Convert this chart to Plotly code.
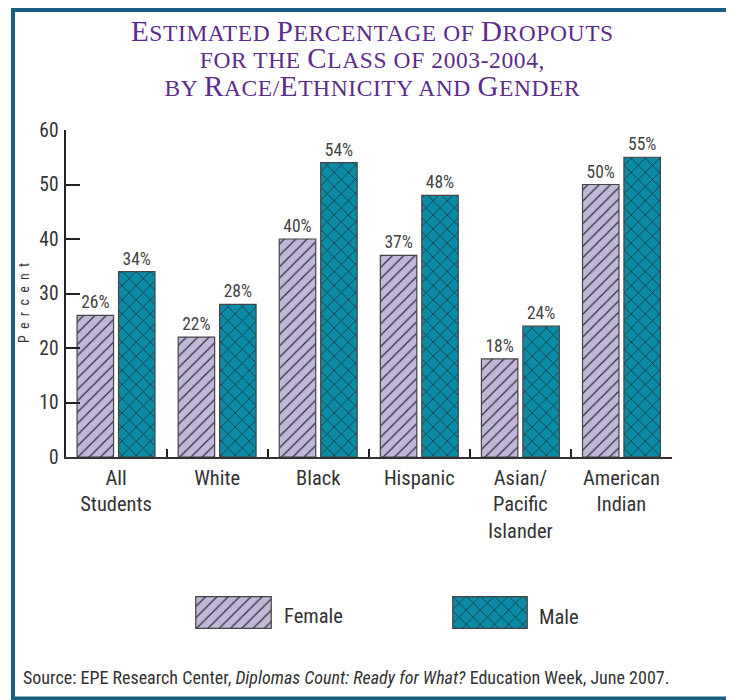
import plotly.graph_objects as go

# ---------------- data ----------------
categories = ["All<br>Students", "White", "Black", "Hispanic",
              "Asian/<br>Pacific<br>Islander", "American<br>Indian"]
female = [26, 22, 40, 37, 18, 50]
male = [34, 28, 54, 48, 24, 55]
y_ticks = [0, 10, 20, 30, 40, 50, 60]

title_lines = ["Estimated Percentage of Dropouts",
               "for the Class of 2003-2004,",
               "by Race/Ethnicity and Gender"]
y_title = "Percent"
source_text = ("Source: EPE Research Center, <i>Diplomas Count: Ready for What?</i> "
               "Education Week, June 2007.")

# ---------------- styles ----------------
W, H = 734, 700
OFF = 8  # page body margin compensation
FEMALE_COLOR = "#c1b7d7"
MALE_COLOR = "#0c8ba7"
FRAME_COLOR = "#1a5e84"
TITLE_COLOR = "#5b2c8a"
TEXT_COLOR = "#333333"
SANS = "Liberation Sans Narrow, Arial Narrow, Roboto Condensed, Liberation Sans, sans-serif"
SERIF = "Liberation Serif, Times New Roman, serif"


def px(x):
    return (x - OFF) / W


def py(y):
    return 1 - (y - OFF) / H


def small_caps(text, big, small, spacing=0.6):
    out = []
    cur_size, buf = None, ""

    def flush(size, s):
        out.append(f'<span style="font-size:{size}px;letter-spacing:{spacing}px">{s}</span>')

    for ch in text:
        if ch.isalpha() and ch.isupper():
            size, c = big, ch
        elif ch.isalpha():
            size, c = small, ch.upper()
        else:
            size, c = small, ch
        if size != cur_size and buf:
            flush(cur_size, buf)
            buf = ""
        cur_size = size
        buf += c
    if buf:
        flush(cur_size, buf)
    return "".join(out)


female_pattern = dict(shape="/", fgcolor="#2f2f3a", bgcolor=FEMALE_COLOR,
                      size=8, solidity=0.15, fillmode="replace")
male_pattern = dict(shape="x", fgcolor="#1c2a30", bgcolor=MALE_COLOR,
                    size=10, solidity=0.14, fillmode="replace")

fig = go.Figure()

fig.add_trace(go.Bar(
    x=categories, y=female, name="Female",
    marker=dict(color=FEMALE_COLOR, pattern=female_pattern,
                line=dict(color="#444444", width=1.2)),
    texttemplate="%{y}%", textposition="outside",
    textfont=dict(family=SANS, size=17.5, color="#444444"),
    cliponaxis=False, showlegend=False,
))
fig.add_trace(go.Bar(
    x=categories, y=male, name="Male",
    marker=dict(color=MALE_COLOR, pattern=male_pattern,
                line=dict(color="#444444", width=1.2)),
    texttemplate="%{y}%", textposition="outside",
    textfont=dict(family=SANS, size=17.5, color="#444444"),
    cliponaxis=False, showlegend=False,
))

# legend swatches (drawn as bars so they can carry the fill patterns)
fig.add_trace(go.Bar(x=[0], y=[1], width=[1], xaxis="x2", yaxis="y2",
                     marker=dict(color=FEMALE_COLOR, pattern=female_pattern,
                                 line=dict(color="#444444", width=1.2)),
                     hoverinfo="skip", showlegend=False, name="Female"))
fig.add_trace(go.Bar(x=[0], y=[1], width=[1], xaxis="x3", yaxis="y3",
                     marker=dict(color=MALE_COLOR, pattern=male_pattern,
                                 line=dict(color="#444444", width=1.2)),
                     hoverinfo="skip", showlegend=False, name="Male"))

hidden = dict(visible=False, fixedrange=True)

fig.update_layout(
    width=W, height=H,
    margin=dict(l=0, r=0, t=0, b=0),
    paper_bgcolor="white", plot_bgcolor="rgba(0,0,0,0)",
    barmode="group", bargap=0.18, bargroupgap=0.12,
    font=dict(family=SANS, color=TEXT_COLOR),
    xaxis=dict(domain=[px(65.5), px(672)], type="category",
               showline=True, linecolor="#333333", linewidth=2,
               ticks="inside", tickson="boundaries", ticklen=8, tickwidth=2,
               tickcolor="#222222", showgrid=False,
               tickfont=dict(family=SANS, size=20.5, color=TEXT_COLOR),
               ticklabelstandoff=1, automargin=False, fixedrange=True),
    yaxis=dict(domain=[py(457), py(130)], range=[0, 60],
               tickvals=y_ticks, showline=True, linecolor="#222222", linewidth=2,
               ticks="inside", ticklen=14, tickwidth=2, tickcolor="#222222",
               showgrid=False, zeroline=False,
               tickfont=dict(family=SANS, size=19.5, color=TEXT_COLOR),
               ticklabelstandoff=1, automargin=False, fixedrange=True),
    xaxis2=dict(domain=[px(195), px(272)], range=[-0.51, 0.51], anchor="y2", **hidden),
    yaxis2=dict(domain=[py(629), py(596)], range=[-0.02, 1.02], anchor="x2", **hidden),
    xaxis3=dict(domain=[px(452), px(528)], range=[-0.51, 0.51], anchor="y3", **hidden),
    yaxis3=dict(domain=[py(629), py(596)], range=[-0.02, 1.02], anchor="x3", **hidden),
)

annotations = []
title_text = "<br>".join(small_caps(line, 29, 23.5) for line in title_lines)
annotations.append(dict(
    text=title_text, x=px(372), y=py(59),
    xref="paper", yref="paper", xanchor="center", yanchor="middle",
    showarrow=False, font=dict(family=SERIF, color=TITLE_COLOR, size=21)))

annotations.append(dict(text="\u2002".join(y_title), x=px(24), y=py(303), xref="paper",
                        yref="paper", textangle=-90, showarrow=False,
                        xanchor="center", yanchor="middle",
                        font=dict(family=SANS, size=14, color=TEXT_COLOR)))
annotations.append(dict(text="Female", x=px(282), y=py(616), xref="paper", yref="paper",
                        xanchor="left", yanchor="middle", showarrow=False,
                        font=dict(family=SANS, size=20.5, color=TEXT_COLOR)))
annotations.append(dict(text="Male", x=px(537), y=py(617), xref="paper", yref="paper",
                        xanchor="left", yanchor="middle", showarrow=False,
                        font=dict(family=SANS, size=20.5, color=TEXT_COLOR)))
annotations.append(dict(text=source_text, x=px(21), y=py(677), xref="paper", yref="paper",
                        xanchor="left", yanchor="middle", showarrow=False,
                        font=dict(family=SANS, size=18, color=TEXT_COLOR)))
fig.update_layout(annotations=annotations)

fig.add_shape(type="rect", xref="paper", yref="paper",
              x0=px(13), x1=px(732), y0=py(698.5), y1=py(10),
              line=dict(color=FRAME_COLOR, width=4), fillcolor="rgba(0,0,0,0)",
              layer="above")

fig.write_html("out.html")
